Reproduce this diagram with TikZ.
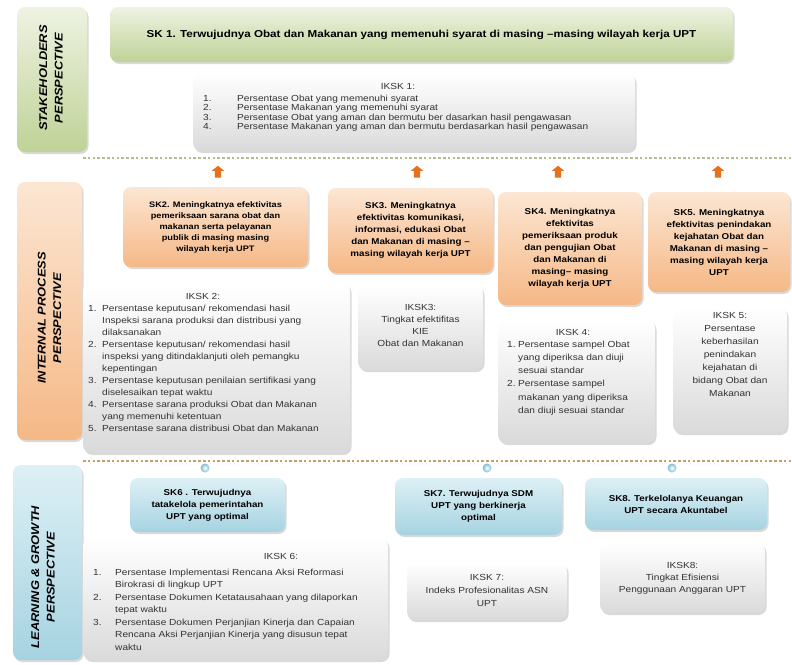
\documentclass[tikz,border=0pt]{standalone}
\usepackage{fontspec}
\setmainfont{Liberation Sans}[FakeStretch=1.15]
\usetikzlibrary{shadows,shapes.arrows}

\definecolor{greentop}{HTML}{EEF3E2}
\definecolor{greenbot}{HTML}{BFD296}
\definecolor{orangetop}{HTML}{FCE6D3}
\definecolor{orangebot}{HTML}{F5B886}
\definecolor{bluetop}{HTML}{DDF0F5}
\definecolor{bluebot}{HTML}{A6D3E1}
\definecolor{graybot}{HTML}{DADADA}
\definecolor{dotgreen}{HTML}{AEBF8C}
\definecolor{dotorange}{HTML}{CF9A66}
\definecolor{arroworange}{HTML}{E5711F}
\definecolor{circleblue}{HTML}{7FBFD6}

\begin{document}
\begin{tikzpicture}[x=1pt, y=-1pt,
    box/.style={rounded corners=8pt, inner sep=2pt, align=center,
        drop shadow={shadow xshift=1.5pt, shadow yshift=-2pt, opacity=0.3}},
    greenbox/.style={box, top color=greentop, bottom color=greenbot},
    orangebox/.style={box, top color=orangetop, bottom color=orangebot,
        font=\fontsize{8.5}{12}\selectfont\bfseries},
    bluebox/.style={box, top color=bluetop, bottom color=bluebot,
        font=\fontsize{8.5}{12}\selectfont\bfseries},
    graybox/.style={box, top color=white, bottom color=graybot},
    sidelabel/.style={rotate=90, align=center,
        font=\fontsize{11.2}{15.5}\selectfont\bfseries\itshape},
    iktext/.style={inner sep=0pt, align=center, text=black!80},
    iklist/.style={inner sep=0pt, text=black!80},
    uparrow/.style={single arrow, shape border rotate=90, fill=arroworange,
        minimum height=12pt, inner sep=3pt, single arrow head extend=3pt,
        single arrow tip angle=100},
    dotmark/.style={circle, inner color=white, outer color=circleblue,
        minimum size=9pt, inner sep=0pt},
    sepgreen/.style={dotgreen, line width=2.6pt, dash pattern=on 2.6pt off 2.2pt},
    seporange/.style={dotorange, line width=2.6pt, dash pattern=on 2.6pt off 2.2pt}]

    \useasboundingbox (0,0) rectangle (792,664);

    % stakeholders perspective
    \node[greenbox, minimum width=70pt, minimum height=145pt] (stake) at (52,79.5) {};
    \node[sidelabel] (stakelbl) at (51,78) {STAKEHOLDERS\\PERSPECTIVE};
    \node[greenbox, minimum width=623pt, minimum height=55pt,
        font=\fontsize{10.1}{12}\selectfont\bfseries] (sk1) at (421.5,34.5)
        {SK 1. Terwujudnya Obat dan Makanan yang memenuhi syarat di masing --masing wilayah kerja UPT};

    \node[graybox, minimum width=442pt, minimum height=78pt] (iksk1) at (414,112) {};
    \node[iktext, font=\fontsize{8.8}{9.5}\selectfont, anchor=base] (iksk1h) at (398,89) {IKSK 1:};
    \node[iklist, font=\fontsize{8.8}{9.5}\selectfont, anchor=base west] (iksk1l) at (203,101)
        {\begin{tabular}[t]{@{}p{34pt}@{}l@{}}
        1. & Persentase Obat yang memenuhi syarat\\
        2. & Persentase Makanan yang memenuhi syarat\\
        3. & Persentase Obat yang aman dan bermutu ber dasarkan hasil pengawasan\\
        4. & Persentase Makanan yang aman dan bermutu berdasarkan hasil pengawasan
        \end{tabular}};

    % first separator
    \draw[sepgreen] (83,158) -- (792,158);

    % internal process perspective
    \node[box, top color=orangetop, bottom color=orangebot, minimum width=65pt,
        minimum height=258pt] (internal) at (49.5,311) {};
    \node[sidelabel] (internallbl) at (49.5,318) {INTERNAL PROCESS\\PERSPECTIVE};

    \node[uparrow] (up2) at (218,173) {};
    \node[uparrow] (up3) at (417,173) {};
    \node[uparrow] (up4) at (558,173) {};
    \node[uparrow] (up5) at (718,173) {};

    \node[orangebox, minimum width=185pt, minimum height=80pt,
        font=\fontsize{8}{11}\selectfont\bfseries] (sk2) at (215.5,227)
        {SK2. Meningkatnya efektivitas\\pemeriksaan sarana obat dan\\makanan serta pelayanan\\publik di masing masing\\wilayah kerja UPT};
    \node[orangebox, minimum width=165pt, minimum height=85pt] (sk3) at (410.5,230.5)
        {SK3. Meningkatnya\\efektivitas komunikasi,\\informasi, edukasi Obat\\dan Makanan  di masing --\\masing wilayah kerja UPT};
    \node[orangebox, minimum width=144pt, minimum height=113pt] (sk4) at (570,248.5)
        {SK4. Meningkatnya\\efektivitas\\pemeriksaan produk\\dan pengujian Obat\\dan Makanan di\\masing-- masing\\wilayah kerja UPT};
    \node[orangebox, minimum width=142pt, minimum height=100pt] (sk5) at (719,242)
        {SK5. Meningkatnya\\efektivitas penindakan\\kejahatan Obat dan\\Makanan  di masing --\\masing wilayah kerja\\UPT};

    \node[graybox, minimum width=267pt, minimum height=170pt] (iksk2) at (216.5,368) {};
    \node[iktext, font=\fontsize{8.8}{12}\selectfont, anchor=base] (iksk2h) at (203,299) {IKSK 2:};
    \node[iklist, font=\fontsize{8.8}{12}\selectfont, anchor=base west] (iksk2l) at (88,311)
        {\begin{tabular}[t]{@{}p{14pt}@{}l@{}}
        1. & Persentase keputusan/ rekomendasi hasil\\
           & Inspeksi sarana produksi dan distribusi yang\\
           & dilaksanakan\\
        2. & Persentase keputusan/ rekomendasi hasil\\
           & inspeksi yang ditindaklanjuti oleh pemangku\\
           & kepentingan\\
        3. & Persentase keputusan penilaian sertifikasi yang\\
           & diselesaikan tepat waktu\\
        4. & Persentase sarana produksi Obat dan Makanan\\
           & yang memenuhi ketentuan\\
        5. & Persentase sarana distribusi Obat dan Makanan
        \end{tabular}};

    \node[graybox, minimum width=125pt, minimum height=85pt] (iksk3) at (420.5,327.5) {};
    \node[iktext, font=\fontsize{8.8}{12}\selectfont] (iksk3t) at (420.5,325)
        {IKSK3:\\Tingkat efektifitas\\KIE\\Obat dan Makanan};

    \node[graybox, minimum width=157pt, minimum height=123pt] (iksk4) at (576.5,381.5) {};
    \node[iktext, font=\fontsize{8.8}{13.3}\selectfont, anchor=base] (iksk4h) at (573,335) {IKSK 4:};
    \node[iklist, font=\fontsize{8.8}{13.3}\selectfont, anchor=base west] (iksk4l) at (507,347)
        {\begin{tabular}[t]{@{}p{11pt}@{}l@{}}
        1. & Persentase sampel Obat\\
           & yang diperiksa dan diuji\\
           & sesuai standar\\
        2. & Persentase sampel\\
           & makanan yang diperiksa\\
           & dan diuji sesuai standar
        \end{tabular}};

    \node[graybox, minimum width=114pt, minimum height=126pt] (iksk5) at (730,370) {};
    \node[iktext, font=\fontsize{8.8}{13}\selectfont] (iksk5t) at (730,354)
        {IKSK 5:\\Persentase\\keberhasilan\\penindakan\\kejahatan di\\bidang Obat dan\\Makanan};

    % second separator
    \draw[seporange] (83,461) -- (792,461);

    % learning and growth perspective
    \node[box, top color=bluetop, bottom color=bluebot, minimum width=69pt,
        minimum height=195pt] (learning) at (47.5,562.5) {};
    \node[sidelabel] (learninglbl) at (43,577) {LEARNING \& GROWTH\\PERSPECTIVE};

    \node[dotmark] (dot6) at (205,468) {};
    \node[dotmark] (dot7) at (487,468) {};
    \node[dotmark] (dot8) at (672,468) {};

    \node[bluebox, minimum width=155pt, minimum height=54pt] (sk6) at (207.5,505)
        {SK6 . Terwujudnya\\tatakelola pemerintahan\\UPT  yang optimal};
    \node[bluebox, minimum width=167pt, minimum height=57pt] (sk7) at (478.5,506.5)
        {SK7. Terwujudnya SDM\\UPT yang berkinerja\\optimal};
    \node[bluebox, minimum width=182pt, minimum height=52pt] (sk8) at (676,504)
        {SK8. Terkelolanya Keuangan\\UPT secara Akuntabel};

    \node[graybox, minimum width=305pt, minimum height=122pt] (iksk6) at (235.5,599) {};
    \node[iktext, font=\fontsize{8.8}{12.5}\selectfont, anchor=base] (iksk6h) at (281,559) {IKSK 6:};
    \node[iklist, font=\fontsize{8.8}{12.5}\selectfont, anchor=base west] (iksk6l) at (93,575)
        {\begin{tabular}[t]{@{}p{22pt}@{}l@{}}
        1. & Persentase Implementasi Rencana Aksi Reformasi\\
           & Birokrasi di lingkup UPT\\
        2. & Persentase Dokumen  Ketatausahaan yang dilaporkan\\
           & tepat waktu\\
        3. & Persentase Dokumen Perjanjian Kinerja dan Capaian\\
           & Rencana Aksi Perjanjian Kinerja yang disusun tepat\\
           & waktu
        \end{tabular}};

    \node[graybox, minimum width=160pt, minimum height=57pt] (iksk7) at (487,591.5) {};
    \node[iktext, font=\fontsize{8.8}{13}\selectfont] (iksk7t) at (487,590)
        {IKSK 7:\\Indeks Profesionalitas ASN\\UPT};

    \node[graybox, minimum width=165pt, minimum height=70pt] (iksk8) at (682.5,578) {};
    \node[iktext, font=\fontsize{8.8}{12}\selectfont] (iksk8t) at (682.5,578)
        {IKSK8:\\Tingkat Efisiensi\\Penggunaan Anggaran UPT};

\end{tikzpicture}
\end{document}
